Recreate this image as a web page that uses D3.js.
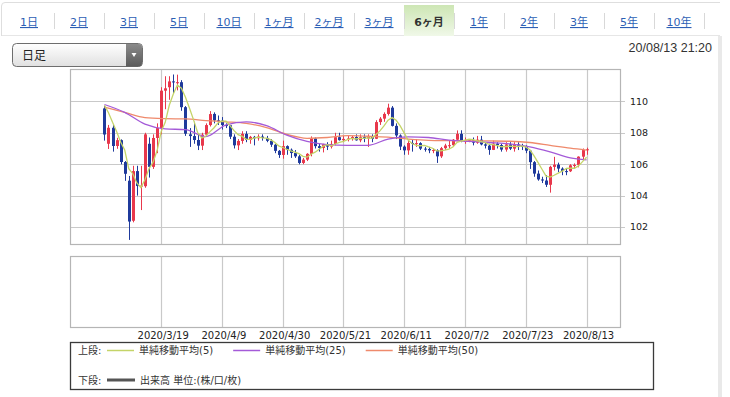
<!DOCTYPE html>
<html>
<head>
<meta charset="utf-8">
<script src="https://d3js.org/d3.v7.min.js"></script>
<style>
    body { margin: 0; background: #fff; }
    svg { display: block; font-family: "DejaVu Sans", "Noto Sans CJK JP", sans-serif; }
</style>
</head>
<body>
<div id="chart"></div>
<script>
const tabs = ["1日", "2日", "3日", "5日", "10日", "1ヶ月", "2ヶ月", "3ヶ月", "6ヶ月", "1年", "2年", "3年", "5年", "10年"];
const selectedTab = "6ヶ月";
const period = "日足";
const timestamp = "20/08/13 21:20";

const tickLabels = ["2020/3/19", "2020/4/9", "2020/4/30", "2020/5/21", "2020/6/11", "2020/7/2", "2020/7/23", "2020/8/13"];
const yTicks = [102, 104, 106, 108, 110];

// daily candles, 2020/2/28 .. 2020/8/13 (weekdays)
const opens = [
    109.55, 107.30, 108.32, 107.16, 107.53, 106.14, 104.95, 102.40, 105.56, 104.61,
    104.60, 107.30, 105.83, 107.67, 108.30, 110.68, 110.90, 111.27, 111.20, 111.22,
    109.63, 107.90, 107.79, 107.54, 107.18, 107.88, 108.49, 109.20, 108.79, 108.77,
    108.49, 108.48, 107.75, 107.20, 107.48, 107.93, 107.54, 107.74, 107.65, 107.76,
    107.67, 107.49, 107.24, 106.85, 106.59, 107.15, 106.92, 106.71, 106.50, 106.08,
    106.29, 106.66, 107.64, 107.15, 107.03, 107.27, 107.12, 107.29, 107.72, 107.53,
    107.61, 107.64, 107.73, 107.52, 107.72, 107.64, 107.77, 107.62, 108.68, 108.90,
    109.20, 109.60, 108.44, 107.83, 107.12, 106.88, 107.35, 107.32, 107.34, 106.99,
    106.97, 106.88, 106.90, 106.50, 107.02, 107.19, 107.21, 107.56, 107.93, 107.48,
    107.50, 107.52, 107.37, 107.56, 107.26, 107.18, 106.91, 107.31, 107.22, 106.93,
    107.26, 106.99, 107.26, 107.18, 107.16, 106.86, 106.13, 105.40, 105.03, 104.96,
    104.69, 105.83, 105.97, 105.72, 105.56, 105.55, 105.93, 105.95, 106.48, 106.90
];
const highs = [
    109.70, 108.50, 108.55, 107.68, 107.58, 106.20, 105.25, 105.90, 105.90, 105.90,
    108.00, 107.70, 107.90, 108.60, 110.90, 111.60, 111.60, 111.71, 111.70, 111.35,
    109.70, 108.30, 108.70, 107.90, 108.00, 108.60, 109.38, 109.30, 109.10, 109.00,
    108.60, 108.50, 107.90, 107.60, 108.10, 108.10, 107.80, 107.80, 107.90, 107.90,
    107.80, 107.60, 107.30, 106.90, 107.50, 107.20, 107.00, 106.90, 106.60, 106.40,
    106.70, 107.77, 107.70, 107.30, 107.30, 107.40, 107.50, 108.00, 108.00, 107.80,
    107.80, 107.80, 107.90, 107.90, 107.90, 107.90, 107.90, 108.80, 109.00, 109.30,
    109.85, 109.70, 108.60, 107.90, 107.20, 107.50, 107.60, 107.60, 107.40, 107.10,
    107.10, 107.00, 106.95, 107.10, 107.30, 107.50, 107.60, 108.15, 108.16, 107.70,
    107.60, 107.70, 107.80, 107.80, 107.40, 107.30, 107.50, 107.40, 107.30, 107.40,
    107.40, 107.40, 107.40, 107.30, 107.20, 106.90, 106.20, 105.60, 105.20, 105.30,
    105.90, 106.47, 106.10, 105.80, 105.70, 106.00, 106.05, 106.50, 107.00, 107.05
];
const lows = [
    107.50, 106.97, 106.80, 106.98, 105.99, 104.94, 101.18, 102.30, 104.00, 103.08,
    104.50, 105.15, 105.70, 106.70, 107.90, 109.50, 110.10, 110.50, 110.70, 109.40,
    107.80, 107.10, 107.30, 106.90, 106.90, 107.80, 108.40, 108.60, 108.50, 108.20,
    108.30, 107.60, 107.00, 106.90, 107.30, 107.40, 107.30, 107.20, 107.50, 107.50,
    107.40, 107.10, 106.70, 106.40, 106.35, 106.60, 106.40, 106.40, 105.99, 106.00,
    106.20, 106.50, 107.00, 106.80, 106.75, 106.90, 107.00, 107.20, 107.50, 107.40,
    107.45, 107.50, 107.50, 107.40, 107.40, 107.10, 107.40, 107.60, 108.50, 108.70,
    109.10, 108.40, 107.60, 106.90, 106.60, 106.60, 106.80, 107.10, 106.90, 106.80,
    106.70, 106.70, 106.08, 106.40, 106.90, 107.00, 107.10, 107.50, 107.40, 107.30,
    107.40, 107.20, 107.30, 107.20, 107.00, 106.60, 106.90, 107.00, 106.80, 106.80,
    106.90, 106.80, 106.90, 106.90, 106.70, 105.70, 105.20, 104.95, 104.80, 104.55,
    104.19, 105.60, 105.50, 105.30, 105.30, 105.50, 105.70, 105.80, 106.30, 106.60
];
const closes = [
    107.89, 108.32, 107.16, 107.53, 106.14, 105.39, 102.35, 105.56, 104.61, 104.64,
    107.90, 105.83, 107.67, 108.30, 110.68, 110.83, 111.27, 111.23, 111.22, 109.63,
    107.94, 107.79, 107.54, 107.18, 107.88, 108.49, 109.19, 108.79, 108.77, 108.49,
    108.48, 107.75, 107.20, 107.48, 107.93, 107.54, 107.74, 107.65, 107.76, 107.67,
    107.49, 107.24, 106.85, 106.59, 107.15, 106.92, 106.71, 106.50, 106.08, 106.29,
    106.66, 107.64, 107.15, 107.03, 107.27, 107.12, 107.29, 107.72, 107.53, 107.61,
    107.64, 107.73, 107.52, 107.72, 107.64, 107.77, 107.62, 108.68, 108.90, 109.20,
    109.60, 108.44, 107.83, 107.12, 106.88, 107.35, 107.32, 107.34, 106.99, 106.97,
    106.88, 106.90, 106.50, 107.02, 107.19, 107.21, 107.56, 107.93, 107.48, 107.50,
    107.52, 107.37, 107.56, 107.26, 107.18, 106.91, 107.31, 107.22, 106.93, 107.26,
    106.99, 107.26, 107.18, 107.16, 106.86, 106.13, 105.40, 105.03, 104.96, 104.69,
    105.83, 105.97, 105.72, 105.56, 105.55, 105.93, 105.95, 106.48, 106.90, 106.95
];
// closes of the four sessions before the window (for the 5-day line)
const priorCloses = [110.70, 110.23, 110.42, 109.54];

// 25 / 50 day lines every 5 sessions
const maIndex = [0, 5, 10, 15, 20, 25, 30, 35, 40, 45, 50, 55, 60, 65, 70, 75, 80, 85, 90, 95, 100, 105, 110, 115, 119];
const ma25 = [109.80, 109.30, 108.55, 108.25, 108.20, 107.75, 108.50, 108.70, 108.45, 107.85, 107.45, 107.25, 107.20,
    107.20, 107.60, 107.74, 107.70, 107.53, 107.45, 107.38, 107.30, 107.10, 106.78, 106.40, 106.27];
const ma50 = [109.63, 109.30, 108.97, 108.90, 108.88, 108.78, 108.70, 108.60, 108.33, 107.90, 107.65, 107.70, 107.82,
    107.78, 107.72, 107.60, 107.52, 107.50, 107.49, 107.48, 107.46, 107.38, 107.20, 107.02, 106.90];

const legendTop = ["単純移動平均(5)", "単純移動平均(25)", "単純移動平均(50)"];
const legendBottom = "出来高 単位:(株/口/枚)";

let width = 730,
    height = 397,
    colors = {up: "#e8384c", down: "#1f3a9c", ma5: "#c4d468", ma25: "#a45ad8", ma50: "#ef8a6c"};

let dates = d3.utcDays(new Date(Date.UTC(2020, 1, 28)), new Date(Date.UTC(2020, 7, 14)))
    .filter(d => d.getUTCDay() % 6 !== 0);
let fmt = d3.utcFormat("%Y/%-m/%-d");
let tickIndex = tickLabels.map(t => dates.findIndex(d => fmt(d) === t));

let candles = closes.map((c, i) => ({i: i, o: opens[i], h: highs[i], l: lows[i], c: c}));
let allCloses = priorCloses.concat(closes);
let ma5 = closes.map((c, i) => d3.mean(allCloses.slice(i, i + 5)));

let svg = d3.select("#chart")
    .append("svg")
    .attr("width", width)
    .attr("height", height);

let defs = svg.append("defs");
let g1 = defs.append("linearGradient").attr("id", "tabbg").attr("x1", 0).attr("y1", 0).attr("x2", 0).attr("y2", 1);
g1.append("stop").attr("offset", "0%").attr("stop-color", "#cde6b4");
g1.append("stop").attr("offset", "100%").attr("stop-color", "#f0f8e8");
let g2 = defs.append("linearGradient").attr("id", "selbg").attr("x1", 0).attr("y1", 0).attr("x2", 0).attr("y2", 1);
g2.append("stop").attr("offset", "0%").attr("stop-color", "#ffffff");
g2.append("stop").attr("offset", "100%").attr("stop-color", "#e0e0e0");
let g3 = defs.append("linearGradient").attr("id", "btnbg").attr("x1", 0).attr("y1", 0).attr("x2", 0).attr("y2", 1);
g3.append("stop").attr("offset", "0%").attr("stop-color", "#8a8a8a");
g3.append("stop").attr("offset", "100%").attr("stop-color", "#5a5a5a");

// frame and tabs
let tabX = d3.scaleBand().domain(tabs).range([4, 704]);

svg.append("path")
    .attr("d", "M1.5,36 V6 a3.5,3.5 0 0 1 3.5,-3.5 H720")
    .attr("fill", "none").attr("stroke", "#dedede");

svg.append("line")
    .attr("x1", 2).attr("x2", 720).attr("y1", 35.5).attr("y2", 35.5)
    .attr("stroke", "#e6e6e6");

svg.append("rect")
    .attr("x", tabX(selectedTab)).attr("y", 5)
    .attr("width", tabX.bandwidth()).attr("height", 31)
    .attr("fill", "url(#tabbg)");

svg.selectAll(".sep")
    .data(tabs)
    .enter()
    .append("line")
    .attr("x1", d => Math.round(tabX(d) + tabX.bandwidth()) + 0.5)
    .attr("x2", d => Math.round(tabX(d) + tabX.bandwidth()) + 0.5)
    .attr("y1", 13).attr("y2", 29)
    .attr("stroke", "#d8d8d8");

svg.selectAll(".tab")
    .data(tabs)
    .enter()
    .append("text")
    .attr("x", d => tabX(d) + tabX.bandwidth() / 2)
    .attr("y", 26)
    .attr("text-anchor", "middle")
    .attr("font-size", 11)
    .attr("fill", d => d === selectedTab ? "#333" : "#2d5fb5")
    .attr("font-weight", d => d === selectedTab ? "bold" : "normal")
    .attr("text-decoration", d => d === selectedTab ? "none" : "underline")
    .text(d => d);

// right edge band
svg.append("rect")
    .attr("x", 718).attr("y", 36).attr("width", 4).attr("height", height - 36)
    .attr("fill", "#e9e9e9");

// period selector
svg.append("rect")
    .attr("x", 12.5).attr("y", 43.5).attr("width", 130).attr("height", 23).attr("rx", 4)
    .attr("fill", "url(#selbg)").attr("stroke", "#6e6e6e");
svg.append("path")
    .attr("d", "M126,44 h12.5 a3.5,3.5 0 0 1 3.5,3.5 v15.5 a3.5,3.5 0 0 1 -3.5,3.5 h-12.5 z")
    .attr("fill", "url(#btnbg)");
svg.append("path")
    .attr("d", "M131.5,53 h5 l-2.5,4 z")
    .attr("fill", "#fff");
svg.append("text")
    .attr("x", 22).attr("y", 60)
    .attr("font-size", 12).attr("fill", "#222")
    .text(period);

svg.append("text")
    .attr("x", 712).attr("y", 52)
    .attr("text-anchor", "end")
    .attr("font-family", "Liberation Sans, Arial, sans-serif")
    .attr("font-size", 12.5).attr("fill", "#333")
    .text(timestamp);

// scales
let plot = {left: 70, right: 620, top: 69, bottom: 244},
    vol = {top: 256, bottom: 327};

let x = d3.scaleLinear()
    .domain([-8.5, dates.length + 7.25])
    .range([plot.left, plot.right]);

let y = d3.scaleLinear()
    .domain([100.92, 112.06])
    .range([plot.bottom, plot.top]);

// grid
let grid = svg.append("g").attr("stroke", "#c9c9c9").attr("stroke-width", 1.2);

grid.selectAll(".hg")
    .data(yTicks)
    .enter()
    .append("line")
    .attr("x1", plot.left).attr("x2", plot.right + 5)
    .attr("y1", d => Math.round(y(d)) + 0.5).attr("y2", d => Math.round(y(d)) + 0.5);

grid.selectAll(".vg")
    .data(tickIndex)
    .enter()
    .append("line")
    .attr("x1", d => Math.round(x(d)) + 0.5).attr("x2", d => Math.round(x(d)) + 0.5)
    .attr("y1", plot.top).attr("y2", plot.bottom);

grid.selectAll(".vg2")
    .data(tickIndex)
    .enter()
    .append("line")
    .attr("x1", d => Math.round(x(d)) + 0.5).attr("x2", d => Math.round(x(d)) + 0.5)
    .attr("y1", vol.top).attr("y2", vol.bottom);

svg.append("rect")
    .attr("x", plot.left + 0.5).attr("y", plot.top + 0.5)
    .attr("width", plot.right - plot.left).attr("height", plot.bottom - plot.top)
    .attr("fill", "none").attr("stroke", "#b5b5b5").attr("stroke-width", 1.2);

svg.append("rect")
    .attr("x", plot.left + 0.5).attr("y", vol.top + 0.5)
    .attr("width", plot.right - plot.left).attr("height", vol.bottom - vol.top)
    .attr("fill", "none").attr("stroke", "#b5b5b5").attr("stroke-width", 1.2);

// axis labels
svg.selectAll(".yl")
    .data(yTicks)
    .enter()
    .append("text")
    .attr("x", 630)
    .attr("y", d => y(d))
    .attr("dy", "0.35em")
    .attr("font-size", 9.5)
    .attr("fill", "#222")
    .text(d => d);

svg.selectAll(".xl")
    .data(tickLabels)
    .enter()
    .append("text")
    .attr("x", (d, i) => x(tickIndex[i]) + 2)
    .attr("y", 339)
    .attr("text-anchor", "middle")
    .attr("font-size", 10)
    .attr("fill", "#222")
    .text(d => d);

// candles
let cg = svg.append("g");

cg.selectAll(".wick")
    .data(candles)
    .enter()
    .append("line")
    .attr("x1", d => Math.round(x(d.i)) + 0.5)
    .attr("x2", d => Math.round(x(d.i)) + 0.5)
    .attr("y1", d => y(d.h))
    .attr("y2", d => y(d.l))
    .attr("stroke", d => d.c >= d.o ? colors.up : colors.down);

cg.selectAll(".body")
    .data(candles)
    .enter()
    .append("rect")
    .attr("x", d => Math.round(x(d.i)) - 1)
    .attr("y", d => y(Math.max(d.o, d.c)))
    .attr("width", 3)
    .attr("height", d => Math.max(1, Math.abs(y(d.o) - y(d.c))))
    .attr("fill", d => d.c >= d.o ? colors.up : colors.down);

// moving averages
let line = d3.line()
    .x((d, i) => x(i))
    .y(d => y(d));

let smooth = d3.line()
    .x((d, i) => x(maIndex[i]))
    .y(d => y(d))
    .curve(d3.curveMonotoneX);

svg.append("path")
    .attr("d", smooth(ma50))
    .attr("fill", "none").attr("stroke", colors.ma50).attr("stroke-width", 1.3);

svg.append("path")
    .attr("d", smooth(ma25))
    .attr("fill", "none").attr("stroke", colors.ma25).attr("stroke-width", 1.3);

svg.append("path")
    .attr("d", line(ma5))
    .attr("fill", "none").attr("stroke", colors.ma5).attr("stroke-width", 1.3);

// legend
let lg = svg.append("g").attr("font-size", 10).attr("fill", "#333");

lg.append("rect")
    .attr("x", 70.5).attr("y", 342.5).attr("width", 583).attr("height", 47)
    .attr("fill", "none").attr("stroke", "#3a3a3a").attr("stroke-width", 1.3);

lg.append("text").attr("x", 78).attr("y", 354).text("上段:");
lg.append("text").attr("x", 78).attr("y", 384).text("下段:");

let legendColors = [colors.ma5, colors.ma25, colors.ma50];
let cursor = 107;

legendTop.forEach((label, i) => {
    lg.append("line")
        .attr("x1", cursor).attr("x2", cursor + 27)
        .attr("y1", 350.5).attr("y2", 350.5)
        .attr("stroke", legendColors[i])
        .attr("stroke-width", 1.5);
    let t = lg.append("text")
        .attr("x", cursor + 32)
        .attr("y", 354)
        .text(label);
    cursor += 32 + t.node().getComputedTextLength() + 20;
});

lg.append("line")
    .attr("x1", 107).attr("x2", 135).attr("y1", 380).attr("y2", 380)
    .attr("stroke", "#555").attr("stroke-width", 3);

lg.append("text").attr("x", 140).attr("y", 384).text(legendBottom);
</script>
</body>
</html>
